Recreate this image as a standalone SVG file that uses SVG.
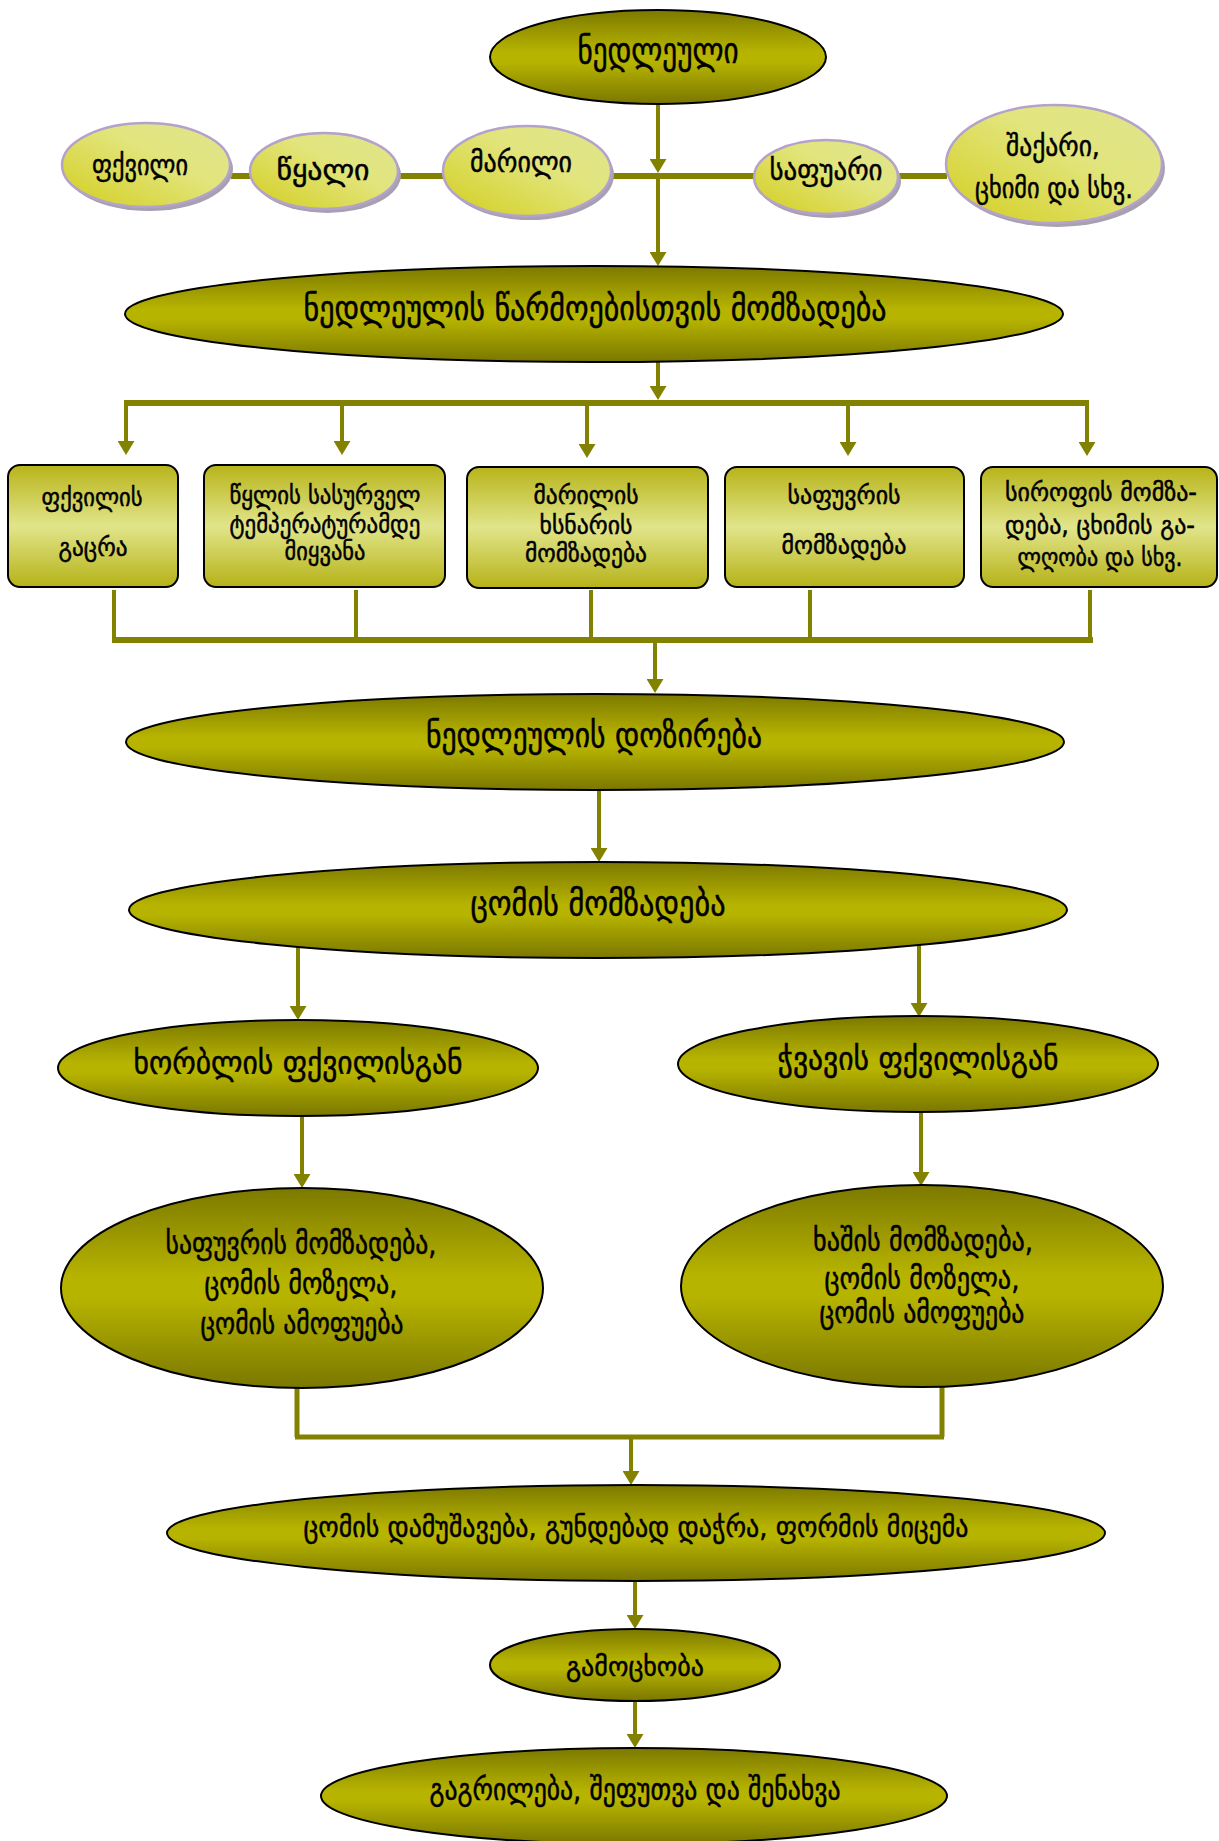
<svg xmlns="http://www.w3.org/2000/svg" width="1219" height="1841" viewBox="0 0 1219 1841">
<defs>
<linearGradient id="gOl" x1="0" y1="0" x2="0" y2="1">
<stop offset="0" stop-color="#7c7900"/>
<stop offset="0.45" stop-color="#b7b400"/>
<stop offset="0.55" stop-color="#b7b400"/>
<stop offset="1" stop-color="#7a7700"/>
</linearGradient>
<linearGradient id="gBox" x1="0" y1="0" x2="0" y2="1">
<stop offset="0" stop-color="#b8b41a"/>
<stop offset="0.5" stop-color="#e1e58a"/>
<stop offset="1" stop-color="#b6b218"/>
</linearGradient>
<linearGradient id="gLt" x1="0" y1="1" x2="1" y2="0">
<stop offset="0" stop-color="#d3ce1e"/>
<stop offset="0.6" stop-color="#e2e57e"/>
<stop offset="1" stop-color="#e0e48c"/>
</linearGradient>
<marker id="ah" viewBox="0 0 14 17" refX="8" refY="8.5" markerWidth="14" markerHeight="17" markerUnits="userSpaceOnUse" orient="auto">
<path d="M0,0 L14,8.5 L0,17 Z" fill="#838100"/>
</marker>
<style>
.big{fill:url(#gOl);stroke:#000;stroke-width:2}
.box{fill:url(#gBox);stroke:#000;stroke-width:2}
.lt{fill:url(#gLt);stroke:#b3a3cb;stroke-width:2.5}
.sh{fill:#a79fb2}
.t{font-family:"DejaVu Sans","Noto Sans",sans-serif;text-anchor:middle;fill:#000;stroke:#000;stroke-width:0.5}
.ln{stroke:#838100;fill:none}
.ar{stroke:#838100;stroke-width:4;fill:none;marker-end:url(#ah)}
</style>
</defs>

<g id="connectors">
<line class="ln" x1="231" y1="176" x2="947" y2="176" stroke-width="6"/>
<line class="ar" x1="658" y1="104" x2="658" y2="167"/>
<line class="ar" x1="658" y1="176" x2="658" y2="260"/>
<line class="ar" x1="658" y1="362" x2="658" y2="394"/>
<line class="ln" x1="124" y1="403" x2="1089" y2="403" stroke-width="6"/>
<line class="ar" x1="126" y1="403" x2="126" y2="449"/>
<line class="ar" x1="342" y1="403" x2="342" y2="449"/>
<line class="ar" x1="587" y1="403" x2="587" y2="452"/>
<line class="ar" x1="848" y1="403" x2="848" y2="450"/>
<line class="ar" x1="1087" y1="403" x2="1087" y2="450"/>
<line class="ln" x1="114" y1="590" x2="114" y2="640" stroke-width="4"/>
<line class="ln" x1="356" y1="590" x2="356" y2="640" stroke-width="4"/>
<line class="ln" x1="591" y1="590" x2="591" y2="640" stroke-width="4"/>
<line class="ln" x1="810" y1="590" x2="810" y2="640" stroke-width="4"/>
<line class="ln" x1="1090" y1="590" x2="1090" y2="640" stroke-width="4"/>
<line class="ln" x1="112" y1="640" x2="1093" y2="640" stroke-width="6"/>
<line class="ar" x1="655" y1="640" x2="655" y2="687"/>
<line class="ar" x1="599" y1="790" x2="599" y2="856"/>
<line class="ar" x1="298" y1="947" x2="298" y2="1014"/>
<line class="ar" x1="919" y1="945" x2="919" y2="1011"/>
<line class="ar" x1="302" y1="1116" x2="302" y2="1182"/>
<line class="ar" x1="921" y1="1112" x2="921" y2="1180"/>
<line class="ln" x1="297" y1="1386" x2="297" y2="1437" stroke-width="5"/>
<line class="ln" x1="942" y1="1383" x2="942" y2="1437" stroke-width="5"/>
<line class="ln" x1="295" y1="1437" x2="944" y2="1437" stroke-width="5"/>
<line class="ar" x1="631" y1="1437" x2="631" y2="1479"/>
<line class="ar" x1="635" y1="1582" x2="635" y2="1623"/>
<line class="ar" x1="635" y1="1702" x2="635" y2="1742"/>
</g>

<g id="n-nedleuli">
<ellipse class="big" cx="658" cy="57" rx="168" ry="47"/>
<text class="t" x="658" y="63" font-size="36" textLength="161" lengthAdjust="spacingAndGlyphs">ნედლეული</text>
</g>

<g id="n-pkvili">
<ellipse class="sh" cx="149" cy="169" rx="84" ry="42"/>
<ellipse class="lt" cx="146" cy="165" rx="84" ry="42"/>
<text class="t" x="140" y="175" font-size="29" textLength="96" lengthAdjust="spacingAndGlyphs">ფქვილი</text>
</g>
<g id="n-tskali">
<ellipse class="sh" cx="327" cy="175" rx="74" ry="38"/>
<ellipse class="lt" cx="324" cy="171" rx="74" ry="38"/>
<text class="t" x="323" y="180" font-size="29" textLength="93" lengthAdjust="spacingAndGlyphs">წყალი</text>
</g>
<g id="n-marili">
<ellipse class="sh" cx="530" cy="175" rx="84" ry="45"/>
<ellipse class="lt" cx="527" cy="171" rx="84" ry="45"/>
<text class="t" x="521" y="172" font-size="29" textLength="102" lengthAdjust="spacingAndGlyphs">მარილი</text>
</g>
<g id="n-sapuari">
<ellipse class="sh" cx="829" cy="181" rx="72" ry="37"/>
<ellipse class="lt" cx="826" cy="177" rx="72" ry="37"/>
<text class="t" x="826" y="180" font-size="29" textLength="113" lengthAdjust="spacingAndGlyphs">საფუარი</text>
</g>
<g id="n-shakari">
<ellipse class="sh" cx="1057" cy="168" rx="108" ry="59"/>
<ellipse class="lt" cx="1054" cy="164" rx="108" ry="59"/>
<text class="t" x="1053" y="156" font-size="29" textLength="94" lengthAdjust="spacingAndGlyphs">შაქარი,</text>
<text class="t" x="1054" y="198" font-size="29" textLength="158" lengthAdjust="spacingAndGlyphs">ცხიმი და სხვ.</text>
</g>

<g id="n-momzadeba">
<ellipse class="big" cx="594" cy="314" rx="469" ry="48"/>
<text class="t" x="595" y="320" font-size="34" textLength="583" lengthAdjust="spacingAndGlyphs">ნედლეულის წარმოებისთვის მომზადება</text>
</g>

<g id="b-1">
<rect class="box" x="8" y="465" width="170" height="122" rx="12"/>
<text class="t" x="92" y="506" font-size="26" textLength="101" lengthAdjust="spacingAndGlyphs">ფქვილის</text>
<text class="t" x="93" y="556" font-size="26" textLength="69" lengthAdjust="spacingAndGlyphs">გაცრა</text>
</g>
<g id="b-2">
<rect class="box" x="204" y="465" width="241" height="122" rx="12"/>
<text class="t" x="325" y="504" font-size="26" textLength="191" lengthAdjust="spacingAndGlyphs">წყლის სასურველ</text>
<text class="t" x="325" y="533" font-size="26" textLength="191" lengthAdjust="spacingAndGlyphs">ტემპერატურამდე</text>
<text class="t" x="325" y="560" font-size="26" textLength="81" lengthAdjust="spacingAndGlyphs">მიყვანა</text>
</g>
<g id="b-3">
<rect class="box" x="467" y="467" width="241" height="121" rx="12"/>
<text class="t" x="586" y="504" font-size="26" textLength="105" lengthAdjust="spacingAndGlyphs">მარილის</text>
<text class="t" x="586" y="534" font-size="26" textLength="93" lengthAdjust="spacingAndGlyphs">ხსნარის</text>
<text class="t" x="586" y="562" font-size="26" textLength="122" lengthAdjust="spacingAndGlyphs">მომზადება</text>
</g>
<g id="b-4">
<rect class="box" x="725" y="467" width="239" height="120" rx="12"/>
<text class="t" x="844" y="504" font-size="26" textLength="113" lengthAdjust="spacingAndGlyphs">საფუვრის</text>
<text class="t" x="844" y="554" font-size="26" textLength="125" lengthAdjust="spacingAndGlyphs">მომზადება</text>
</g>
<g id="b-5">
<rect class="box" x="981" y="467" width="236" height="120" rx="12"/>
<text class="t" x="1101" y="501" font-size="26" textLength="192" lengthAdjust="spacingAndGlyphs">სიროფის მომზა-</text>
<text class="t" x="1100" y="534" font-size="26" textLength="190" lengthAdjust="spacingAndGlyphs">დება, ცხიმის გა-</text>
<text class="t" x="1100" y="566" font-size="26" textLength="165" lengthAdjust="spacingAndGlyphs">ლღობა და სხვ.</text>
</g>

<g id="n-dozireba">
<ellipse class="big" cx="595" cy="742" rx="469" ry="48"/>
<text class="t" x="594" y="747" font-size="34" textLength="336" lengthAdjust="spacingAndGlyphs">ნედლეულის დოზირება</text>
</g>

<g id="n-tsomis">
<ellipse class="big" cx="598" cy="910" rx="469" ry="48"/>
<text class="t" x="598" y="915" font-size="34" textLength="255" lengthAdjust="spacingAndGlyphs">ცომის მომზადება</text>
</g>

<g id="n-khorbali">
<ellipse class="big" cx="298" cy="1068" rx="240" ry="48"/>
<text class="t" x="298" y="1074" font-size="32" textLength="329" lengthAdjust="spacingAndGlyphs">ხორბლის ფქვილისგან</text>
</g>
<g id="n-chvavi">
<ellipse class="big" cx="918" cy="1064" rx="240" ry="48"/>
<text class="t" x="918" y="1070" font-size="32" textLength="281" lengthAdjust="spacingAndGlyphs">ჭვავის ფქვილისგან</text>
</g>

<g id="n-left">
<ellipse class="big" cx="302" cy="1288" rx="241" ry="100"/>
<text class="t" x="301" y="1254" font-size="30" textLength="271" lengthAdjust="spacingAndGlyphs">საფუვრის მომზადება,</text>
<text class="t" x="301" y="1294" font-size="30" textLength="193" lengthAdjust="spacingAndGlyphs">ცომის მოზელა,</text>
<text class="t" x="302" y="1334" font-size="30" textLength="203" lengthAdjust="spacingAndGlyphs">ცომის ამოფუება</text>
</g>
<g id="n-right">
<ellipse class="big" cx="922" cy="1286" rx="241" ry="101"/>
<text class="t" x="923" y="1251" font-size="30" textLength="220" lengthAdjust="spacingAndGlyphs">ხაშის მომზადება,</text>
<text class="t" x="922" y="1289" font-size="30" textLength="195" lengthAdjust="spacingAndGlyphs">ცომის მოზელა,</text>
<text class="t" x="922" y="1323" font-size="30" textLength="205" lengthAdjust="spacingAndGlyphs">ცომის ამოფუება</text>
</g>

<g id="n-damushaveba">
<ellipse class="big" cx="636" cy="1533" rx="469" ry="48"/>
<text class="t" x="636" y="1537" font-size="29" textLength="665" lengthAdjust="spacingAndGlyphs">ცომის დამუშავება, გუნდებად დაჭრა, ფორმის მიცემა</text>
</g>

<g id="n-gamocxoba">
<ellipse class="big" cx="635" cy="1665" rx="145" ry="36"/>
<text class="t" x="635" y="1676" font-size="27" textLength="138" lengthAdjust="spacingAndGlyphs">გამოცხობა</text>
</g>

<g id="n-gagrileba">
<ellipse class="big" cx="634" cy="1796" rx="313" ry="48"/>
<text class="t" x="635" y="1800" font-size="30" textLength="411" lengthAdjust="spacingAndGlyphs">გაგრილება, შეფუთვა და შენახვა</text>
</g>
</svg>
